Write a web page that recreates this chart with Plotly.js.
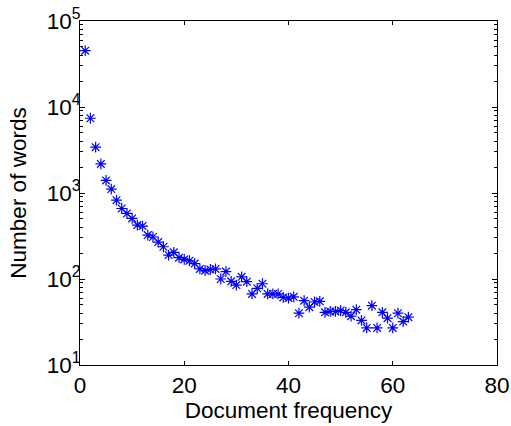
<!DOCTYPE html>
<html>
<head>
<meta charset="utf-8">
<script src="https://cdn.plot.ly/plotly-3.0.1.min.js"></script>
<style>html,body{margin:0;padding:0;background:#fff;}#chart{width:511px;height:426px;}</style>
</head>
<body>
<div id="chart"></div>
<script>
// Document frequency (x) and number of words (y)
var docFreq = [1,2,3,4,5,6,7,8,9,10,11,12,13,14,15,16,17,18,19,20,21,22,23,24,25,26,27,28,29,30,31,32,33,34,35,36,37,38,39,40,41,42,43,44,45,46,47,48,49,50,51,52,53,54,55,56,57,58,59,60,61,62,63];
var numWords = [45200,7400,3410,2180,1400,1110,826,660,578,506,424,413,324,308,269,237,190,204,177,169,163,151,131,125,129,131,100,122,94,85,106,93,67,78,88,67,67,67,61,60,62,40,56,47,54,55,41,42,42,43,41,37,44,33,27,49,27,41,35,27,40,32,36];
var xTickVals = [0,20,40,60,80];
var yTickVals = [10,100,1000,10000,100000];
var yTickText = ['10<sup>1</sup>','10<sup>2</sup>','10<sup>3</sup>','10<sup>4</sup>','10<sup>5</sup>'];

var font = {family: '"Liberation Sans", Arial, Helvetica, sans-serif', size: 22.5, color: '#000'};

var trace = {
  x: docFreq,
  y: numWords,
  mode: 'markers',
  type: 'scatter',
  marker: {symbol: 'asterisk-open', size: 9, color: '#0000ff', line: {color: '#0000ff', width: 1.2}},
  hoverinfo: 'skip'
};

var layout = {
  width: 511, height: 426,
  margin: {l: 79.5, r: 14, t: 21, b: 60.5, pad: 0},
  paper_bgcolor: '#fff', plot_bgcolor: '#fff',
  font: font,
  showlegend: false,
  xaxis: {
    range: [0, 80], tickmode: 'array', tickvals: xTickVals, ticktext: xTickVals.map(String),
    ticks: 'inside', ticklen: 4, tickcolor: '#000', tickwidth: 1,
    showline: true, linecolor: '#000', linewidth: 1, mirror: 'ticks',
    showgrid: false, zeroline: false,
    tickfont: font,
    title: {text: 'Document frequency', font: font, standoff: 2}
  },
  yaxis: {
    type: 'log', range: [1, 5], tickmode: 'array', tickvals: yTickVals, ticktext: yTickText,
    ticks: 'inside', ticklen: 5, tickcolor: '#000', tickwidth: 1,
    minor: {tickmode: 'linear', dtick: 'D1', ticks: 'inside', ticklen: 3, tickcolor: '#000', showgrid: false},
    showline: true, linecolor: '#000', linewidth: 1, mirror: 'ticks',
    showgrid: false, zeroline: false,
    tickfont: font,
    ticklabelstandoff: -6,
    title: {text: 'Number of words', font: font, standoff: 13}
  }
};

Plotly.newPlot('chart', [trace], layout, {staticPlot: true, displayModeBar: false});
</script>
</body>
</html>
